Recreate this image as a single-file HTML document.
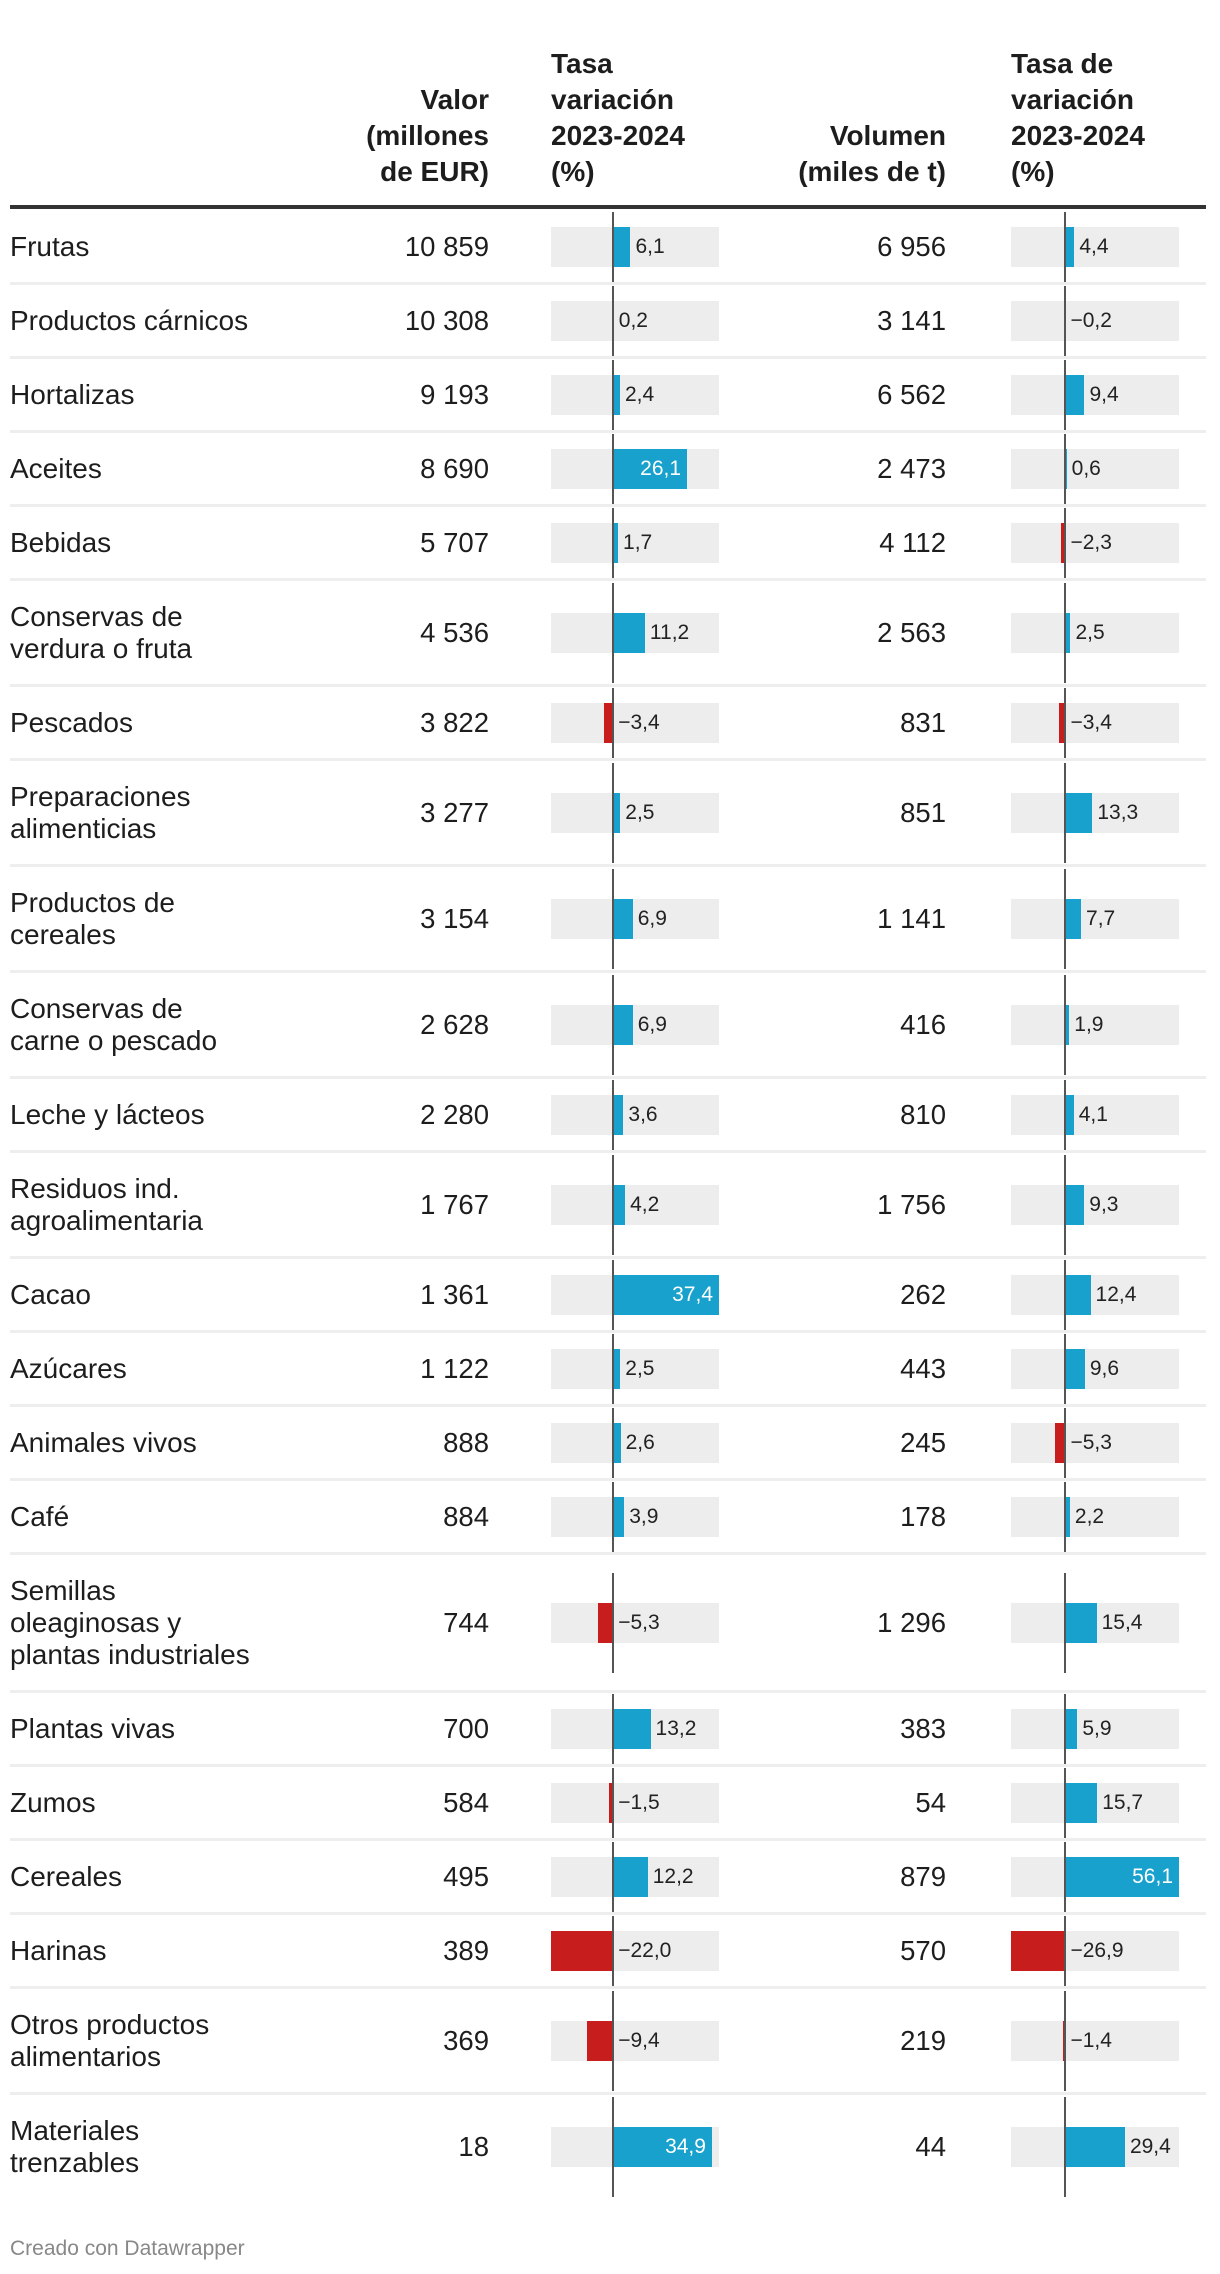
<!DOCTYPE html>
<html><head><meta charset="utf-8">
<style>
html,body{margin:0;padding:0;background:#fff;}
body{width:1220px;height:2274px;position:relative;overflow:hidden;font-family:"Liberation Sans",Arial,sans-serif;color:#1d1d1d;}
.abs{position:absolute;}
.hdr{position:absolute;font-weight:bold;font-size:28px;line-height:36px;color:#1d1d1d;bottom:2084px;}
.lbl{position:absolute;font-size:28px;line-height:32px;left:10px;}
.num{position:absolute;font-size:27.5px;line-height:32px;text-align:right;}
.bv{position:absolute;font-size:21px;line-height:40px;white-space:nowrap;}
</style></head>
<body>
<div class="hdr" style="right:731px;text-align:right">Valor<br>(millones<br>de EUR)</div>
<div class="hdr" style="left:551px">Tasa<br>variación<br>2023-2024<br>(%)</div>
<div class="hdr" style="right:274px;text-align:right">Volumen<br>(miles de t)</div>
<div class="hdr" style="left:1011px">Tasa de<br>variación<br>2023-2024<br>(%)</div>
<div class="abs" style="left:10px;top:205px;width:1196px;height:4px;background:#333"></div>
<div id="rows"></div>
<div class="abs" style="left:10px;top:2237px;font-size:21px;color:#888">Creado con Datawrapper</div>
<script>
const categories=["Frutas","Productos cárnicos","Hortalizas","Aceites","Bebidas","Conservas de<br>verdura o fruta","Pescados","Preparaciones<br>alimenticias","Productos de<br>cereales","Conservas de<br>carne o pescado","Leche y lácteos","Residuos ind.<br>agroalimentaria","Cacao","Azúcares","Animales vivos","Café","Semillas<br>oleaginosas y<br>plantas industriales","Plantas vivas","Zumos","Cereales","Harinas","Otros productos<br>alimentarios","Materiales<br>trenzables"];
const valor=["10 859","10 308","9 193","8 690","5 707","4 536","3 822","3 277","3 154","2 628","2 280","1 767","1 361","1 122","888","884","744","700","584","495","389","369","18"];
const tasaValor=[6.1,0.2,2.4,26.1,1.7,11.2,-3.4,2.5,6.9,6.9,3.6,4.2,37.4,2.5,2.6,3.9,-5.3,13.2,-1.5,12.2,-22.0,-9.4,34.9];
const volumen=["6 956","3 141","6 562","2 473","4 112","2 563","831","851","1 141","416","810","1 756","262","443","245","178","1 296","383","54","879","570","219","44"];
const tasaVolumen=[4.4,-0.2,9.4,0.6,-2.3,2.5,-3.4,13.3,7.7,1.9,4.1,9.3,12.4,9.6,-5.3,2.2,15.4,5.9,15.7,56.1,-26.9,-1.4,29.4];
const d1=[-22.0,37.4], d2=[-26.9,56.1];
const BG1=551, BG2=1011, BW=168;
function scale(dom,x0,w){return v=>x0+(v-dom[0])/(dom[1]-dom[0])*w;}
const s1=scale(d1,BG1,BW), s2=scale(d2,BG2,BW);
const root=document.getElementById('rows');
function add(html){const t=document.createElement('div');t.innerHTML=html;const e=t.firstChild;root.appendChild(e);return e;}
function fmt(v){return (v<0?'−':'')+Math.abs(v).toFixed(1).replace('.',',');}
function bar(sc,v,bgx,top,i,kind){
  const z=sc(0),x=sc(v);
  const bg=add('<div class="abs"></div>');
  bg.style.cssText=`left:${bgx}px;top:${top}px;width:${BW}px;height:40px;background:#ededed`;
  
  
  const b=add('<div class="abs"></div>');
  b.style.cssText=`left:${Math.min(z,x)}px;top:${top}px;width:${Math.abs(x-z)}px;height:40px;background:${v<0?'#c71e1d':'#18a1cd'}`;
  
  
  const l=add('<div class="bv"></div>');
  l.textContent=fmt(v);
  const end=bgx+BW;
  if(v>0 && end-x<45){l.style.cssText+=`;right:${1220-x+6}px;top:${top}px;color:#fff`;}
  else{l.style.cssText+=`;left:${(v>0?x:z)+5}px;top:${top}px;color:#222`;}
  
  
}
let y=210;
categories.forEach((c,i)=>{
  const lines=c.split('<br>').length;
  const h=42+32*lines;
  const cy=y+h/2;
  const lb=add('<div class="lbl"></div>');
  lb.innerHTML=c;
  lb.style.top=(cy-16*lines)+'px';
  
  
  const n1=add('<div class="num"></div>');
  n1.textContent=valor[i];n1.style.right='731px';n1.style.top=(cy-16)+'px';
  
  
  const n2=add('<div class="num"></div>');
  n2.textContent=volumen[i];n2.style.right='274px';n2.style.top=(cy-16)+'px';
  
  
  bar(s1,tasaValor[i],BG1,cy-20,i,'tasa-valor');
  bar(s2,tasaVolumen[i],BG2,cy-20,i,'tasa-volumen');
  const ah=Math.min(h-3,100);
  [s1(0),s2(0)].forEach(ax=>{
    const a=add('<div class="abs"></div>');
    a.style.cssText=`left:${ax-1}px;top:${cy-ah/2}px;width:2px;height:${ah}px;background:#555`;
    
    
  });
  if(i<categories.length-1){
    const s=add('<div class="abs"></div>');
    s.style.cssText=`left:10px;top:${y+h-2}px;width:1196px;height:3px;background:#eeeeee`;
    
    
  }
  y+=h;
});
</script>
</body></html>
